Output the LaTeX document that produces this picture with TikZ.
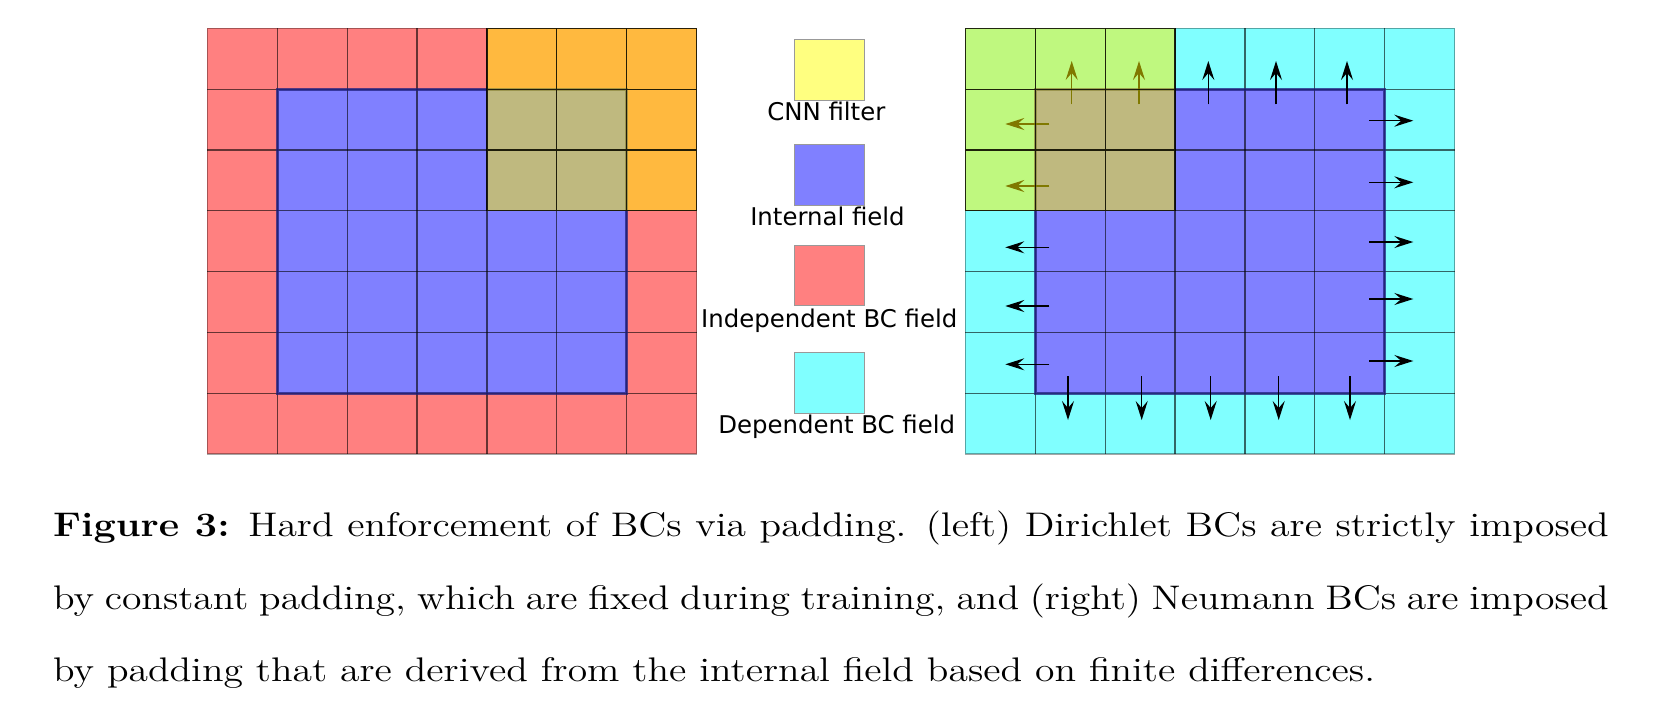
\documentclass[tikz,border=0pt]{standalone}
\usepackage{fontspec}
\newfontfamily\dejavu{DejaVu Sans}
\newfontfamily\capfont{lmroman12-regular}[Extension=.otf, BoldFont=lmroman12-bold]
\usetikzlibrary{arrows.meta}
\definecolor{cred}{HTML}{FF8080}
\definecolor{cblue}{HTML}{8080FF}
\definecolor{ccyan}{HTML}{80FFFF}
\definecolor{cyel}{HTML}{FFFF80}
\definecolor{bord}{HTML}{202080}
\newlength\capw
\tikzset{
 gridin/.style={draw=black, draw opacity=0.6, line width=0.6pt},
 gridout/.style={draw=black, draw opacity=0.35, line width=0.6pt},
 filterfill/.style={fill=yellow, fill opacity=0.5},
 filterline/.style={draw=black, draw opacity=0.8, line width=0.6pt},
 fieldborder/.style={draw=bord, draw opacity=0.75, line width=1.5pt},
 bcarrow/.style={-{Stealth[length=9.5pt,width=6pt,inset=3.5pt]}, line width=0.7pt},
 legbox/.style={draw=black!40, line width=0.5pt, minimum width=35pt, minimum height=30.35pt, inner sep=0pt},
 leglabel/.style={font=\dejavu\fontsize{12.2pt}{14pt}\selectfont, anchor=base, inner sep=0pt},
 captext/.style={font=\capfont\fontsize{17.07pt}{20pt}\selectfont, anchor=base west, inner sep=0pt},
}
\newcommand\capthree{by padding that are derived from the internal field based on finite differences.}
\begin{document}
\settowidth{\capw}{\capfont\fontsize{17.07pt}{20pt}\selectfont\capthree}%
\pgfmathsetmacro\capsx{661/\capw}%
\pgfmathsetmacro\capinner{777.8/\capsx}%
\begin{tikzpicture}[x=0.5pt,y=-0.5pt]
\useasboundingbox (0,0) rectangle (1664,707);
% ---------------- left grid ----------------
\begin{scope}[xshift=103.65pt, yshift=-14.15pt, x=34.95pt, y=-30.4pt]
 \fill[cred] (0,0) rectangle (7,7);
 \fill[cblue] (1,1) rectangle (6,6);
 \foreach \k in {1,...,6}{
   \path[gridin] (\k,0) -- (\k,7);
   \path[gridin] (0,\k) -- (7,\k);
 }
 \path[gridout] (0,0) rectangle (7,7);
 \path[fieldborder] (1,1) rectangle (6,6);
 \fill[filterfill] (4,0) rectangle (7,3);
 \path[filterline] (4,0) rectangle (7,3) (5,0) -- (5,3) (6,0) -- (6,3) (4,1) -- (7,1) (4,2) -- (7,2);
\end{scope}
% ---------------- right grid ----------------
\begin{scope}[xshift=482.65pt, yshift=-14.15pt, x=34.95pt, y=-30.4pt]
 \fill[ccyan] (0,0) rectangle (7,7);
 \fill[cblue] (1,1) rectangle (6,6);
 \foreach \k in {1,...,6}{
   \path[gridin] (\k,0) -- (\k,7);
   \path[gridin] (0,\k) -- (7,\k);
 }
 \path[gridout] (0,0) rectangle (7,7);
 \path[fieldborder] (1,1) rectangle (6,6);
\end{scope}
% arrows (top)
\foreach \x in {1071.7,1139,1208.3,1276,1347}{
  \coordinate (ua) at (\x,104.3); \coordinate (ub) at (\x,61);
  \draw[bcarrow] (ua) -- (ub);
}
% arrows (left)
\foreach \y in {124,186,247.3,306,364.3}{
  \coordinate (la) at (1049.3,\y); \coordinate (lb) at (1005.3,\y);
  \draw[bcarrow] (la) -- (lb);
}
% arrows (right)
\foreach \y in {120.7,182.3,242,299,361}{
  \coordinate (ra) at (1369,\y); \coordinate (rb) at (1413.3,\y);
  \draw[bcarrow] (ra) -- (rb);
}
% arrows (bottom)
\foreach \x in {1068,1141.7,1210.7,1278.7,1350}{
  \coordinate (da) at (\x,376); \coordinate (db) at (\x,420);
  \draw[bcarrow] (da) -- (db);
}
% filter on right grid
\begin{scope}[xshift=482.65pt, yshift=-14.15pt, x=34.95pt, y=-30.4pt]
 \fill[filterfill] (0,0) rectangle (3,3);
 \path[filterline] (0,0) rectangle (3,3) (1,0) -- (1,3) (2,0) -- (2,3) (0,1) -- (3,1) (0,2) -- (3,2);
\end{scope}
% ---------------- legend ----------------
\node[legbox, fill=cyel]  (lgy) at (829.3,69.65) {};
\node[legbox, fill=cblue] (lgb) at (829.3,175.2) {};
\node[legbox, fill=cred]  (lgr) at (829.3,275.5) {};
\node[legbox, fill=ccyan] (lgc) at (829.3,382.8) {};
\node[leglabel] (tly) at (826.3,120.7) {CNN filter};
\node[leglabel] (tlb) at (827.5,225) {Internal field};
\node[leglabel] (tlr) at (829.2,327.3) {Independent BC field};
\node[leglabel] (tlc) at (836.7,433.3) {Dependent BC field};
% ---------------- caption ----------------
\node[captext] (cap1) at (52.7,536.7) {\scalebox{\capsx}[1]{\makebox[\capinner pt][s]{\textbf{Figure 3:} Hard enforcement of BCs via padding. (left) Dirichlet BCs are strictly imposed}}};
\node[captext] (cap2) at (52.7,609.3) {\scalebox{\capsx}[1]{\makebox[\capinner pt][s]{by constant padding, which are fixed during training, and (right) Neumann BCs are imposed}}};
\node[captext] (cap3) at (52.7,681.7) {\scalebox{\capsx}[1]{\capthree}};
\end{tikzpicture}
\end{document}
